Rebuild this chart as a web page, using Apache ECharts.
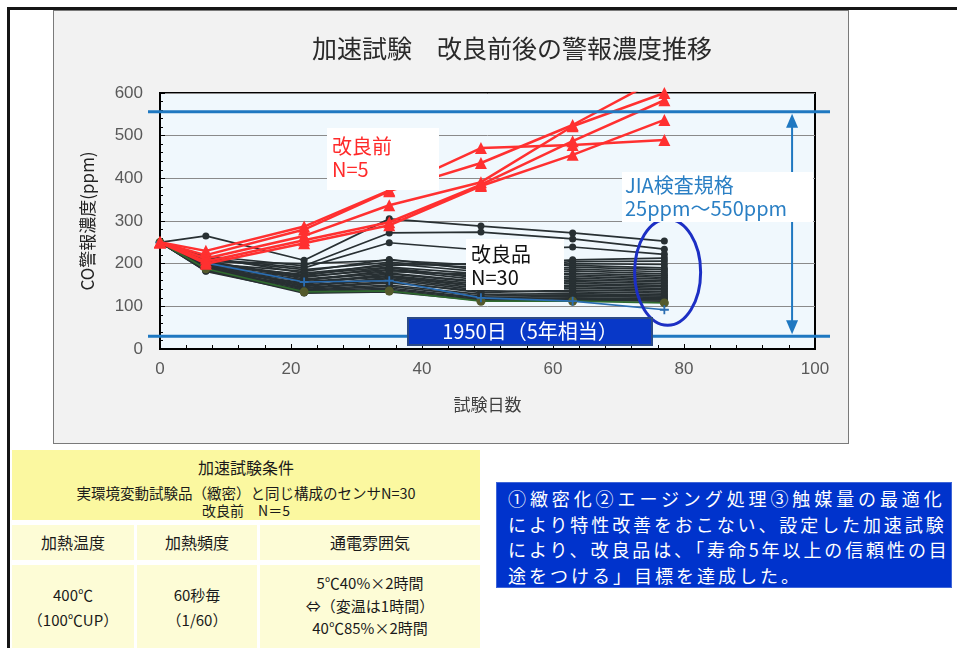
<!DOCTYPE html>
<html>
<head>
<meta charset="utf-8">
<title>加速試験 改良前後の警報濃度推移</title>
<script src="https://cdn.jsdelivr.net/npm/echarts@6/dist/echarts.min.js"></script>
<style>
  body { margin: 0; background: #fff; font-family: "Noto Sans CJK JP", sans-serif; }
  #page { position: relative; width: 957px; height: 648px; overflow: hidden; }
  .frameTop { position: absolute; left: 7px; top: 7px; width: 950px; height: 3px; background: #151515; }
  .frameLeft { position: absolute; left: 7px; top: 7px; width: 3px; height: 641px; background: #151515; }
  #panel { position: absolute; left: 53px; top: 10px; width: 794px; height: 432px; background: #f2f2f2; border: 1px solid #7a7a7a; }
  #main { position: absolute; left: 0; top: 0; width: 957px; height: 648px; }
  .cell { position: absolute; text-align: center; color: #1a1a1a; background: #fdfcd6; }
  .hdr { left: 12px; top: 450px; width: 468px; height: 70px; background: #fbf8a0; }
  .hdr div { position: absolute; left: 0; width: 100%; }
  #note { position: absolute; left: 496px; top: 482px; width: 456px; height: 106px; background: #0033cc;
          border: 1px solid #3f66d8; box-sizing: border-box; color: #fff; font-size: 18px; line-height: 25.5px;
          padding: 3px 0 0 11px; white-space: pre; }
</style>
</head>
<body>
<div id="page">
  <div class="frameTop"></div>
  <div class="frameLeft"></div>
  <div id="panel"></div>
  <div id="main"></div>

  <!-- 加速試験条件の表 -->
  <div class="cell hdr">
    <div style="top:5px;font-size:16px;">加速試験条件</div>
    <div style="top:32px;font-size:14.5px;">実環境変動試験品（緻密）と同じ構成のセンサN=30</div>
    <div style="top:50px;font-size:14px;">改良前　N＝5</div>
  </div>
  <div class="cell" style="left:12px;top:525px;width:122px;height:35px;line-height:35px;font-size:16px;">加熱温度</div>
  <div class="cell" style="left:137px;top:525px;width:120px;height:35px;line-height:35px;font-size:16px;">加熱頻度</div>
  <div class="cell" style="left:260px;top:525px;width:220px;height:35px;line-height:35px;font-size:16px;">通電雰囲気</div>
  <div class="cell" style="left:12px;top:565px;width:122px;height:90px;font-size:15px;line-height:25px;padding-top:17px;box-sizing:border-box;">400℃<br>（100℃UP）</div>
  <div class="cell" style="left:137px;top:565px;width:120px;height:90px;font-size:15px;line-height:25px;padding-top:17px;box-sizing:border-box;">60秒毎<br>（1/60）</div>
  <div class="cell" style="left:260px;top:565px;width:220px;height:90px;font-size:15px;line-height:22.5px;padding-top:7px;box-sizing:border-box;">5℃40%×2時間<br>⇔（変温は1時間）<br>40℃85%×2時間</div>

  <div id="note"><span style="letter-spacing:3.9px">①緻密化②エージング処理③触媒量の最適化</span>
<span style="letter-spacing:2.9px">により特性改善をおこない、設定した加速試験</span>
<span style="letter-spacing:2.9px">により、改良品は、「寿命5年以上の信頼性の目</span>
<span style="letter-spacing:3px">途をつける」目標を達成した。</span></div>
</div>
<script>
  // 試験日数
  var days = [0, 7, 22, 35, 49, 63, 77];

  // 改良前 N=5（ppm）
  var beforeSeries = [
    [250, 230, 287, 372, 471, 478, 490],
    [250, 220, 280, 370, 436, 525, 640],
    [250, 212, 265, 337, 391, 522, 600],
    [250, 205, 255, 297, 385, 487, 583],
    [250, 200, 248, 290, 382, 455, 537]
  ];

  // 改良品 N=30（ppm）
  var afterSeries = [
    [250, 265, 208, 305, 288, 272, 253],
    [250, 218, 195, 272, 274, 258, 234],
    [250, 212, 190, 249, 232, 239, 222],
    [250, 205, 200, 208, 196, 209, 213],
    [250, 210, 186, 203, 190, 205, 206],
    [250, 200, 182, 210, 185, 200, 198],
    [250, 215, 178, 196, 200, 196, 190],
    [250, 196, 175, 192, 176, 192, 186],
    [250, 203, 172, 200, 181, 187, 181],
    [250, 198, 170, 186, 170, 183, 176],
    [250, 192, 168, 190, 166, 178, 172],
    [250, 207, 164, 181, 175, 174, 168],
    [250, 194, 162, 178, 158, 170, 164],
    [250, 189, 160, 185, 162, 166, 160],
    [250, 200, 158, 172, 152, 162, 157],
    [250, 186, 155, 170, 148, 158, 153],
    [250, 195, 152, 176, 156, 154, 149],
    [250, 190, 150, 165, 142, 150, 146],
    [250, 184, 148, 162, 138, 146, 142],
    [250, 198, 146, 168, 146, 142, 139],
    [250, 188, 144, 158, 132, 138, 135],
    [250, 185, 142, 155, 136, 134, 131],
    [250, 193, 140, 150, 128, 130, 127],
    [250, 183, 138, 147, 124, 127, 124],
    [250, 187, 136, 143, 120, 124, 121],
    [250, 182, 134, 140, 118, 120, 118],
    [250, 191, 132, 137, 116, 117, 115],
    [250, 185, 131, 134, 114, 114, 112]
  ];
  // 色違いの2本
  var afterOlive = [250, 188, 134, 136, 112, 112, 108];
  var afterBlue = [250, 202, 157, 160, 120, 112, 92];

  // JIA検査規格の線（元図では 25/550 より少しずれて描かれている）
  var specLow = 30;
  var specHigh = 556;

  var xTicks = [0, 20, 40, 60, 80, 100];
  var yTicks = [0, 100, 200, 300, 400, 500, 600];

  function pairs(vals) {
    return vals.map(function (v, i) { return [days[i], v]; });
  }

  var series = [];
  afterSeries.forEach(function (vals, i) {
    series.push({
      name: '改良品' + (i + 1),
      type: 'line',
      data: pairs(vals),
      symbol: 'circle',
      symbolSize: 7,
      lineStyle: { color: '#283033', width: 1.7 },
      itemStyle: { color: '#283033' },
      z: 2
    });
  });
  series.push({
    name: '改良品29',
    type: 'line',
    data: pairs(afterOlive),
    symbol: 'circle',
    symbolSize: 9,
    lineStyle: { color: '#2f6a2f', width: 1.7 },
    itemStyle: { color: '#545a2c' },
    z: 2
  });
  series.push({
    name: '改良品30',
    type: 'line',
    data: pairs(afterBlue),
    symbol: 'path://M4,0H6V4H10V6H6V10H4V6H0V4H4Z',
    symbolSize: 9,
    lineStyle: { color: '#2a6db2', width: 1.7 },
    itemStyle: { color: '#2a6db2' },
    z: 2
  });
  beforeSeries.forEach(function (vals, i) {
    series.push({
      name: '改良前' + (i + 1),
      type: 'line',
      data: pairs(vals),
      symbol: 'triangle',
      symbolSize: 12,
      lineStyle: { color: '#ff3030', width: 2.5 },
      itemStyle: { color: '#ff3030' },
      z: 3
    });
  });

  var labelFont = { color: '#595959', fontSize: 17, fontFamily: 'Liberation Sans' };

  var myChart = echarts.init(document.getElementById('main'));
  var option = {
    animation: false,
    backgroundColor: 'transparent',
    title: {
      text: '加速試験　改良前後の警報濃度推移',
      left: 507,
      top: 31,
      textAlign: 'center',
      textStyle: { fontSize: 25, fontWeight: 'normal', color: '#2a2a2a', fontFamily: 'Noto Sans CJK JP' }
    },
    grid: {
      left: 160, right: 142, top: 93, bottom: 299,
      show: true,
      backgroundColor: '#f0f8fd',
      borderColor: '#000',
      borderWidth: 2
    },
    xAxis: {
      type: 'value',
      min: xTicks[0],
      max: xTicks[xTicks.length - 1],
      interval: 20,
      name: '試験日数',
      nameLocation: 'middle',
      nameGap: 47,
      nameTextStyle: { fontSize: 17, color: '#404040', fontFamily: 'Noto Sans CJK JP' },
      axisLine: { lineStyle: { color: '#000', width: 2 } },
      axisTick: { inside: true, length: 5, lineStyle: { color: '#000' } },
      minorTick: { show: true, splitNumber: 5, length: 4, lineStyle: { color: '#000' } },
      splitLine: { show: false },
      axisLabel: Object.assign({ margin: 12 }, labelFont)
    },
    yAxis: {
      type: 'value',
      min: yTicks[0],
      max: yTicks[yTicks.length - 1],
      interval: 100,
      name: 'CO警報濃度(ppm)',
      nameLocation: 'middle',
      nameGap: 64,
      nameRotate: 90,
      nameTextStyle: { fontSize: 17, color: '#222', fontFamily: 'Noto Sans CJK JP' },
      axisLine: { show: true, lineStyle: { color: '#000', width: 2 } },
      axisTick: { inside: true, length: 5, lineStyle: { color: '#000' } },
      minorTick: { show: true, splitNumber: 5, length: 3, lineStyle: { color: '#000' } },
      splitLine: { show: true, lineStyle: { color: '#8a8a8a', width: 1 } },
      axisLabel: Object.assign({ margin: 17 }, labelFont)
    },
    series: series
  };
  myChart.setOption(option);

  // 注記（規格線・矢印・楕円・ラベル）
  var yHi = myChart.convertToPixel({ yAxisIndex: 0 }, specHigh);
  var yLo = myChart.convertToPixel({ yAxisIndex: 0 }, specLow);
  var xArrow = myChart.convertToPixel({ xAxisIndex: 0 }, 96.5);
  var ellC = myChart.convertToPixel({ gridIndex: 0 }, [77.5, 180]);
  var blue = '#1f78c1';

  function box(x, y, w, h, fill, z) {
    return { type: 'rect', shape: { x: x, y: y, width: w, height: h }, style: { fill: fill }, z: z || 50 };
  }
  function label(x, y, text, color, size, align) {
    return {
      type: 'text', x: x, y: y, z: 60,
      style: { text: text, fill: color, font: size + 'px "Noto Sans CJK JP"', lineHeight: size + 3,
               textAlign: align || 'left', textVerticalAlign: 'top' }
    };
  }

  myChart.setOption({
    graphic: [
      { type: 'line', shape: { x1: 148, y1: yHi, x2: 830, y2: yHi }, style: { stroke: blue, lineWidth: 3 }, z: 40 },
      { type: 'line', shape: { x1: 148, y1: yLo, x2: 830, y2: yLo }, style: { stroke: blue, lineWidth: 3 }, z: 40 },
      { type: 'line', shape: { x1: xArrow, y1: yHi + 12, x2: xArrow, y2: yLo - 12 }, style: { stroke: blue, lineWidth: 2 }, z: 40 },
      { type: 'polygon', shape: { points: [[xArrow, yHi + 2], [xArrow - 6, yHi + 16], [xArrow + 6, yHi + 16]] }, style: { fill: blue }, z: 40 },
      { type: 'polygon', shape: { points: [[xArrow, yLo - 2], [xArrow - 6, yLo - 16], [xArrow + 6, yLo - 16]] }, style: { fill: blue }, z: 40 },
      { type: 'ellipse', shape: { cx: ellC[0], cy: ellC[1], rx: 33, ry: 53 }, style: { fill: null, stroke: '#1c2fc4', lineWidth: 3 }, z: 45 },

      box(327, 128, 112, 62, '#fff'),
      label(332, 135, '改良前\nN=5', '#ff2a2a', 20),

      box(466, 239, 98, 51, '#fff'),
      label(471, 243, '改良品\nN=30', '#111', 20),

      box(622, 172, 191, 50, '#fff'),
      label(625, 174, 'JIA検査規格\n25ppm～550ppm', '#2a7fc4', 20),

      { type: 'rect', shape: { x: 408, y: 318, width: 244, height: 27 }, style: { fill: '#0838c8', stroke: '#2b4a86', lineWidth: 2 }, z: 55 },
      label(530, 320, '1950日（5年相当）', '#fff', 20, 'center')
    ]
  });

  window.addEventListener('resize', function () {
    myChart.resize();
  });
</script>
</body>
</html>
